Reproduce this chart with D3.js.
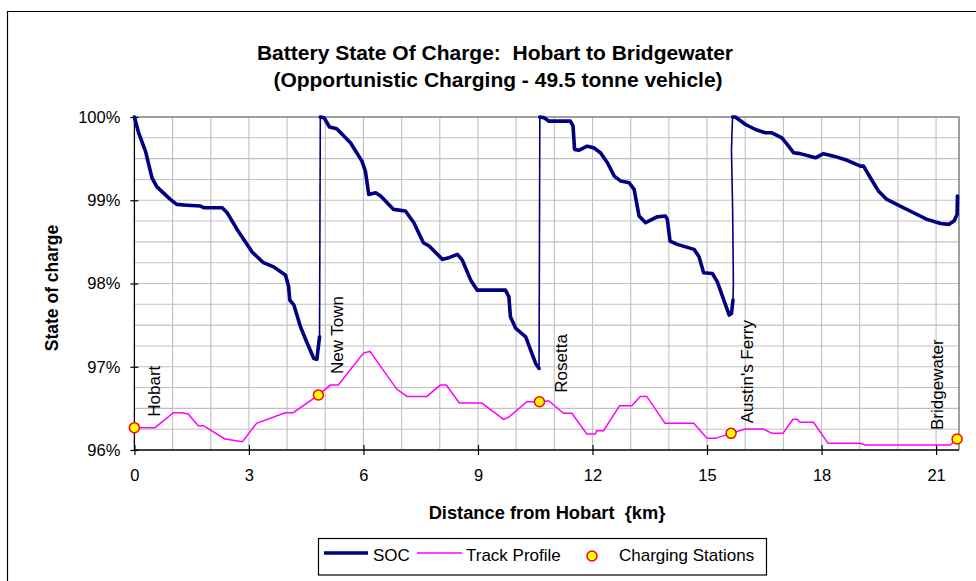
<!DOCTYPE html>
<html>
<head>
<meta charset="utf-8">
<script src="https://cdn.jsdelivr.net/npm/d3@7"></script>
<style>
  body { margin: 0; background: #fff; }
  svg { display: block; font-family: "Liberation Sans", Arial, sans-serif; }
</style>
</head>
<body>
<div id="chart"></div>
<script>
// SOC legs between charging stations: [km, % state of charge]
var leg1 = [[0,100],[0.11,99.81],[0.29,99.59],[0.46,99.27],[0.59,99.16],[0.94,99.01],[1.11,98.95],[1.38,98.94],
  [1.73,98.93],[1.82,98.91],[2.30,98.91],[2.43,98.85],[2.69,98.65],[3.08,98.38],[3.38,98.25],[3.65,98.20],
  [3.96,98.10],[4.04,97.96],[4.07,97.80],[4.18,97.74],[4.35,97.48],[4.53,97.28],[4.70,97.10],[4.78,97.09],[4.85,97.36]];
var leg2 = [[4.87,100],[4.97,99.99],[5.11,99.88],[5.30,99.86],[5.66,99.69],[5.96,99.47],[6.05,99.35],[6.14,99.07],
  [6.32,99.09],[6.45,99.05],[6.79,98.89],[7.10,98.87],[7.32,98.73],[7.57,98.49],[7.72,98.45],[8.07,98.29],
  [8.24,98.31],[8.46,98.35],[8.59,98.28],[8.81,98.04],[8.98,97.92],[9.72,97.92],[9.81,97.84],[9.85,97.60],
  [9.99,97.46],[10.25,97.36],[10.38,97.20],[10.51,97.04],[10.60,96.98]];
var leg3 = [[10.62,100],[10.73,99.99],[10.86,99.95],[11.42,99.95],[11.49,99.89],[11.53,99.61],[11.64,99.60],
  [11.86,99.65],[12.03,99.63],[12.21,99.57],[12.39,99.45],[12.57,99.29],[12.74,99.23],[12.96,99.21],[13.09,99.13],
  [13.22,98.81],[13.39,98.73],[13.69,98.80],[13.91,98.81],[13.96,98.77],[14.03,98.51],[14.22,98.47],[14.66,98.41],
  [14.79,98.32],[14.91,98.13],[15.14,98.12],[15.27,98.02],[15.44,97.80],[15.58,97.62],[15.64,97.64],[15.68,97.80]];
var leg4 = [[15.67,100],[15.74,100],[16.01,99.91],[16.27,99.85],[16.53,99.81],[16.70,99.81],[16.96,99.75],
  [17.10,99.67],[17.27,99.57],[17.44,99.56],[17.84,99.51],[18.05,99.56],[18.32,99.53],[18.67,99.48],[19.02,99.41],
  [19.10,99.41],[19.28,99.27],[19.49,99.11],[19.71,99.01],[20.06,98.93],[20.41,98.85],[20.76,98.77],[21.12,98.72],
  [21.33,98.71],[21.47,98.75],[21.55,98.83],[21.56,99.05]];

// recharge at each station (thin vertical jumps)
var jump1 = [[4.85,97.36],[4.87,100]];
var jump2 = [[10.60,96.98],[10.62,100]];
var jump3 = [[15.68,97.80],[15.69,98.0],[15.67,98.9],[15.64,99.6],[15.66,99.9],[15.67,100]];

// track profile: km and elevation (m, secondary axis not shown)
var profileKm = [0,0.54,1.02,1.24,1.41,1.67,1.81,2.37,2.83,3.20,3.95,4.16,4.82,5.13,5.34,6.00,6.17,6.87,7.14,
  7.66,8.01,8.17,8.51,9.10,9.67,9.80,10.28,10.63,10.85,11.24,11.46,11.85,12.07,12.11,12.29,12.71,13.03,13.25,
  13.42,13.90,14.65,15.00,15.22,15.63,16.00,16.48,16.70,16.99,17.25,17.36,17.44,17.79,18.17,19.01,19.14,21.37,21.55];
var profileElev = [6.7,6.7,11.2,11.2,10.8,7.3,7.3,3.3,2.5,8.0,11.2,11.2,16.5,19.5,19.5,29.1,29.6,18.3,16.1,
  16.1,19.5,19.5,14.1,14.1,9.2,9.8,14.5,14.5,14.8,11.0,11.0,4.8,4.8,5.8,5.8,13.3,13.3,16.1,
  16.1,8.0,8.0,3.5,3.5,5.0,6.3,6.3,5.0,5.0,9.2,9.2,8.3,8.3,2.0,2.0,1.5,1.5,3.3];

// charging stations
var stationNames = ["Hobart", "New Town", "Rosetta", "Austin's Ferry", "Bridgewater"];
var stationKm = [0, 4.82, 10.61, 15.63, 21.55];
var stationElev = [6.7, 16.5, 14.5, 5.0, 3.3];

var yTicks = [0.96, 0.97, 0.98, 0.99, 1.00];
var xTicks = [0, 3, 6, 9, 12, 15, 18, 21];

var W = 976, H = 581;
var plot = {left: 134.4, right: 959, top: 117, bottom: 450};

var svg = d3.select("#chart").append("svg")
    .attr("width", W)
    .attr("height", H);

// outer chart border (only top/left visible in crop)
svg.append("path")
   .attr("d", "M7.5," + H + "V11.5H" + W)
   .attr("fill", "none")
   .attr("stroke", "#000")
   .attr("stroke-width", 1.2);

var x = d3.scaleLinear().domain([0, 21.6]).range([plot.left, plot.right]);
var y = d3.scaleLinear().domain([0.96, 1.00]).range([plot.bottom, plot.top]);
var yElev = d3.scaleLinear().domain([0, 100]).range([plot.bottom, plot.top]); // hidden secondary axis

// gridlines
svg.append("g")
   .selectAll("line")
   .data(d3.range(1, 22))
   .enter().append("line")
   .attr("x1", function(d){ return x(d); })
   .attr("x2", function(d){ return x(d); })
   .attr("y1", plot.top).attr("y2", plot.bottom)
   .attr("stroke", "#c0c0c0").attr("stroke-width", 1.1);

svg.append("g")
   .selectAll("line")
   .data(d3.range(1, 16).map(function(i){ return 0.96 + i * 0.0025; }))
   .enter().append("line")
   .attr("x1", plot.left).attr("x2", plot.right)
   .attr("y1", function(d){ return y(d); })
   .attr("y2", function(d){ return y(d); })
   .attr("stroke", "#c0c0c0").attr("stroke-width", 1.1);

// plot area border top/right
svg.append("path")
   .attr("d", "M" + plot.left + "," + plot.top + "H" + plot.right + "V" + plot.bottom)
   .attr("fill", "none")
   .attr("stroke", "#808080")
   .attr("stroke-width", 1.5);

// axes
var yAxis = svg.append("g")
   .attr("transform", "translate(" + plot.left + ",0)")
   .call(d3.axisLeft(y).tickValues(yTicks).tickFormat(d3.format(".0%")).tickSize(4).tickPadding(10));
yAxis.selectAll(".tick line").attr("x2", 4).attr("x1", -4);

var xAxis = svg.append("g")
   .attr("transform", "translate(0," + plot.bottom + ")")
   .call(d3.axisBottom(x).tickValues(xTicks).tickFormat(d3.format("d")).tickSize(5).tickPadding(14));
xAxis.selectAll(".tick line").attr("y1", -5).attr("y2", 5);

svg.selectAll(".domain").attr("stroke", "#000").attr("stroke-width", 1.3);
svg.selectAll(".tick line").attr("stroke", "#000").attr("stroke-width", 1.2);
svg.selectAll(".tick text")
   .attr("font-family", "'Liberation Sans', Arial, sans-serif")
   .attr("font-size", "16.5px")
   .attr("fill", "#000");
xAxis.select(".domain").attr("d", "M" + plot.left + ",0H" + plot.right);
yAxis.select(".domain").attr("d", "M0," + plot.top + "V" + plot.bottom);

// track profile
var profile = profileKm.map(function(k, i){ return [k, profileElev[i]]; });
svg.append("path")
   .datum(profile)
   .attr("fill", "none")
   .attr("stroke", "#ff00ff")
   .attr("stroke-width", 1.5)
   .attr("d", d3.line().x(function(d){ return x(d[0]); }).y(function(d){ return yElev(d[1]); }));

// SOC line
var socLine = d3.line()
   .x(function(d){ return x(d[0]); })
   .y(function(d){ return y(d[1] / 100); });

[jump1, jump2, jump3].forEach(function(j){
  svg.append("path").datum(j)
     .attr("fill", "none").attr("stroke", "#000080").attr("stroke-width", 1.6)
     .attr("d", socLine);
});
[leg1, leg2, leg3, leg4].forEach(function(l){
  svg.append("path").datum(l)
     .attr("fill", "none").attr("stroke", "#000080").attr("stroke-width", 3.6)
     .attr("stroke-linejoin", "round").attr("stroke-linecap", "round")
     .attr("d", socLine);
});

// station markers
svg.append("g")
   .selectAll("circle")
   .data(stationKm)
   .enter().append("circle")
   .attr("cx", function(d){ return x(d); })
   .attr("cy", function(d, i){ return yElev(stationElev[i]); })
   .attr("r", 5)
   .attr("fill", "#ffff00")
   .attr("stroke", "#ff0000")
   .attr("stroke-width", 1.5);

// station labels (rotated)
var labelDx = [26, 25, 28, 22, -14];
var labelDy = [-11, -21, -9, -10, -9];
svg.append("g")
   .selectAll("text")
   .data(stationNames)
   .enter().append("text")
   .attr("transform", function(d, i){
      return "translate(" + (x(stationKm[i]) + labelDx[i]) + "," + (yElev(stationElev[i]) + labelDy[i]) + ") rotate(-90)";
   })
   .attr("font-size", "17px")
   .attr("fill", "#000")
   .text(function(d){ return d; });

// titles
var title = svg.append("text")
   .attr("text-anchor", "middle")
   .attr("font-weight", "bold")
   .attr("font-size", "21px")
   .style("white-space", "pre");
title.append("tspan").attr("x", 495).attr("y", 60).text("Battery State Of Charge:  Hobart to Bridgewater");
title.append("tspan").attr("x", 498).attr("y", 87).text("(Opportunistic Charging - 49.5 tonne vehicle)");

svg.append("text")
   .attr("transform", "translate(58,288) rotate(-90)")
   .attr("text-anchor", "middle")
   .attr("font-weight", "bold")
   .attr("font-size", "17.5px")
   .text("State of charge");

svg.append("text")
   .attr("x", 547).attr("y", 519)
   .attr("text-anchor", "middle")
   .attr("font-weight", "bold")
   .attr("font-size", "18.3px")
   .style("white-space", "pre")
   .text("Distance from Hobart  {km}");

// legend
var legend = svg.append("g");
legend.append("rect")
   .attr("x", 318.5).attr("y", 538.5).attr("width", 448).attr("height", 36.5)
   .attr("fill", "#fff").attr("stroke", "#000").attr("stroke-width", 1.2);
legend.append("line").attr("x1", 324).attr("x2", 368).attr("y1", 553).attr("y2", 553)
   .attr("stroke", "#000080").attr("stroke-width", 3.6);
legend.append("text").attr("x", 373).attr("y", 561).attr("font-size", "17px").text("SOC");
legend.append("line").attr("x1", 417).attr("x2", 462).attr("y1", 553).attr("y2", 553)
   .attr("stroke", "#ff00ff").attr("stroke-width", 1.5);
legend.append("text").attr("x", 466).attr("y", 561).attr("font-size", "17px").text("Track Profile");
legend.append("circle").attr("cx", 592).attr("cy", 556).attr("r", 5)
   .attr("fill", "#ffff00").attr("stroke", "#ff0000").attr("stroke-width", 1.5);
legend.append("text").attr("x", 619).attr("y", 561).attr("font-size", "17px").text("Charging Stations");
</script>
</body>
</html>
